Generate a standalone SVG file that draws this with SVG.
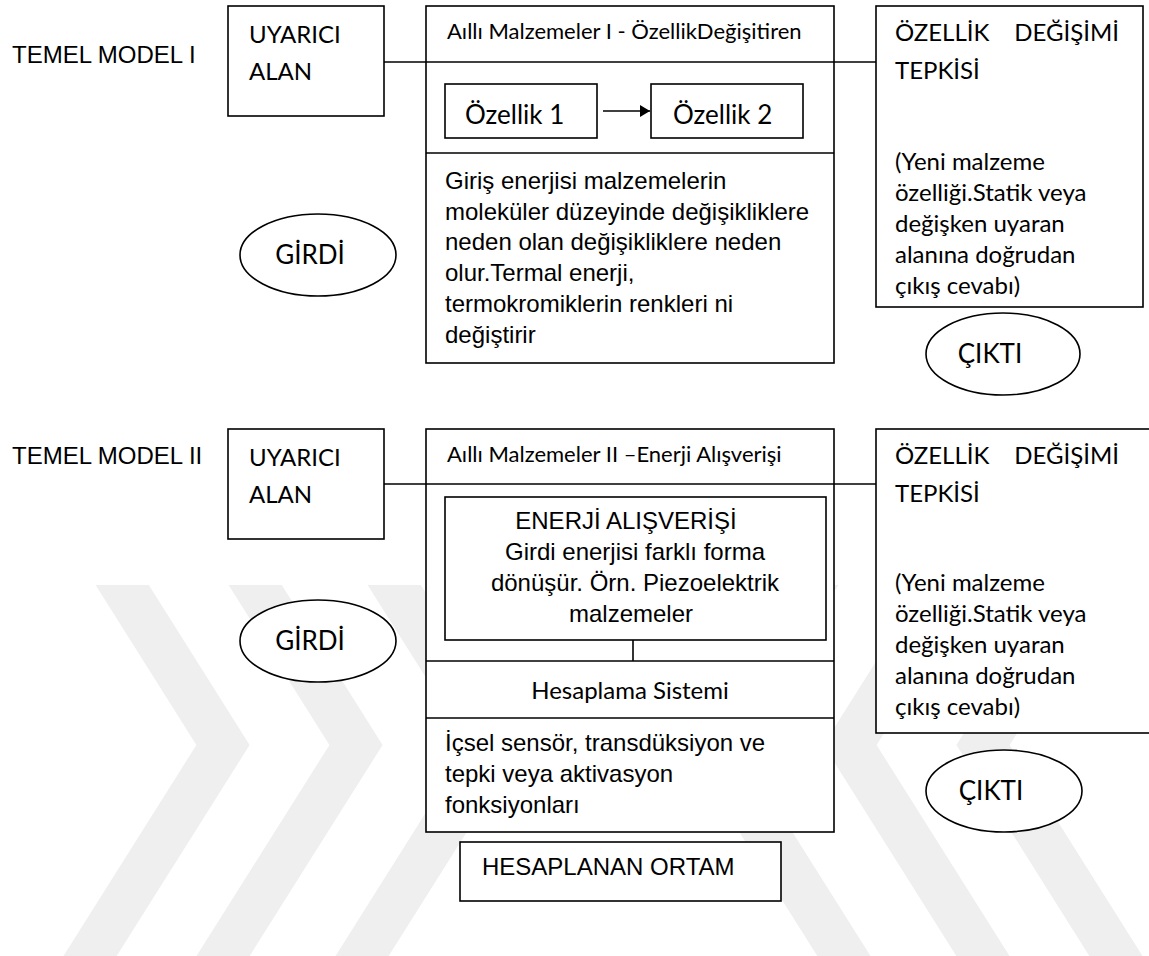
<svg xmlns="http://www.w3.org/2000/svg" width="1149" height="956" viewBox="0 0 1149 956">
<style>
.box{fill:#fff;stroke:#000;stroke-width:1.6}
.ln{fill:none;stroke:#000;stroke-width:1.6}
.ar{font-family:"Liberation Sans",Arial,sans-serif;font-size:24px;fill:#000}
.cb{font-family:Lato,"Open Sans",sans-serif;font-size:24px;fill:#000}
.tt{font-family:Lato,"Open Sans",sans-serif;font-size:22px;fill:#000}
.big{font-family:Lato,"Open Sans",sans-serif;font-size:26px;fill:#000}
.wm{fill:none;stroke:#efefef;stroke-width:45;stroke-linejoin:miter}
</style>
<defs>
<clipPath id="wmclip"><rect x="0" y="585" width="1149" height="371"/></clipPath>
<marker id="ah" markerWidth="10" markerHeight="12" refX="10" refY="6" orient="auto" markerUnits="userSpaceOnUse"><path d="M0,0 L10,6 L0,12 Z" fill="#000"/></marker>
</defs>
<rect width="1149" height="956" fill="#fff"/>
<g id="watermark" clip-path="url(#wmclip)">
<polyline class="wm" points="65.5,495 223,745 65.5,995"/>
<polyline class="wm" points="198.5,495 356,745 198.5,995"/>
<polyline class="wm" points="337.5,495 495,745 337.5,995"/>
<polyline class="wm" points="868.5,495 711,745 868.5,995"/>
<polyline class="wm" points="1007.5,495 850,745 1007.5,995"/>
<polyline class="wm" points="1140.5,495 983,745 1140.5,995"/>
</g>
<text class="ar" x="12" y="63">TEMEL MODEL I</text>
<text class="ar" x="12" y="464">TEMEL MODEL II</text>
<g id="uyarici1"><rect class="box" x="228" y="6" width="156" height="110"/><text class="cb" x="249" y="43">UYARICI</text><text class="cb" x="249" y="80">ALAN</text></g>
<g id="akilli1">
<rect class="box" x="426" y="6" width="408" height="357"/>
<line class="ln" x1="426" y1="153" x2="834" y2="153"/>
<text class="tt" x="447" y="39">Aıllı Malzemeler I - ÖzellikDeğişitiren</text>
<text class="ar" x="445" y="189">Giriş enerjisi malzemelerin</text>
<text class="ar" x="445" y="220">moleküler düzeyinde değişikliklere</text>
<text class="ar" x="445" y="250">neden olan değişikliklere neden</text>
<text class="ar" x="445" y="281">olur.Termal enerji,</text>
<text class="ar" x="445" y="312">termokromiklerin renkleri ni</text>
<text class="ar" x="445" y="343">değiştirir</text>
</g>
<g id="ozellik1"><rect class="box" x="445" y="84" width="152" height="54"/><text class="big" x="465" y="124">Özellik 1</text></g>
<g id="ozellik2"><rect class="box" x="651" y="84" width="152" height="54"/><text class="big" x="673" y="124">Özellik 2</text></g>
<g id="tepki1"><rect class="box" x="876" y="6" width="267" height="301"/>
<text class="cb" x="895" y="41">ÖZELLİK</text><text class="cb" x="1119" y="41" text-anchor="end">DEĞİŞİMİ</text>
<text class="cb" x="895" y="79">TEPKİSİ</text>
<text class="cb" x="895" y="170">(Yeni malzeme</text>
<text class="cb" x="895" y="201">özelliği.Statik veya</text>
<text class="cb" x="895" y="232">değişken uyaran</text>
<text class="cb" x="895" y="263">alanına doğrudan</text>
<text class="cb" x="895" y="294">çıkış cevabı)</text>
</g>
<g id="girdi1"><ellipse class="box" cx="318" cy="255" rx="78" ry="41"/><text class="big" x="310" y="264" text-anchor="middle">GİRDİ</text></g>
<g id="cikti1"><ellipse class="box" cx="1003" cy="354" rx="77" ry="41"/><text class="big" x="990" y="363" text-anchor="middle">ÇIKTI</text></g>

<g id="uyarici2"><rect class="box" x="228" y="429" width="156" height="110"/><text class="cb" x="249" y="466">UYARICI</text><text class="cb" x="249" y="503">ALAN</text></g>
<g id="akilli2">
<rect class="box" x="426" y="429" width="408" height="403"/>
<line class="ln" x1="426" y1="661" x2="834" y2="661"/>
<line class="ln" x1="426" y1="718" x2="834" y2="718"/>
<text class="tt" x="447" y="462">Aıllı Malzemeler II –Enerji Alışverişi</text>
<text class="cb" x="630" y="699" text-anchor="middle">Hesaplama Sistemi</text>
<text class="ar" x="445" y="751">İçsel sensör, transdüksiyon ve</text>
<text class="ar" x="445" y="782">tepki veya aktivasyon</text>
<text class="ar" x="445" y="813">fonksiyonları</text>
</g>
<g id="enerji"><rect class="box" x="445" y="497" width="381" height="143"/>
<text class="ar" x="626" y="529" text-anchor="middle">ENERJİ ALIŞVERİŞİ</text>
<text class="ar" x="635" y="560" text-anchor="middle">Girdi enerjisi farklı forma</text>
<text class="ar" x="635" y="591" text-anchor="middle">dönüşür. Örn. Piezoelektrik</text>
<text class="ar" x="631" y="622" text-anchor="middle">malzemeler</text>
</g>
<g id="tepki2"><rect class="box" x="876" y="429" width="290" height="304"/>
<text class="cb" x="895" y="464">ÖZELLİK</text><text class="cb" x="1119" y="464" text-anchor="end">DEĞİŞİMİ</text>
<text class="cb" x="895" y="502">TEPKİSİ</text>
<text class="cb" x="895" y="591">(Yeni malzeme</text>
<text class="cb" x="895" y="622">özelliği.Statik veya</text>
<text class="cb" x="895" y="653">değişken uyaran</text>
<text class="cb" x="895" y="684">alanına doğrudan</text>
<text class="cb" x="895" y="715">çıkış cevabı)</text>
</g>
<g id="girdi2"><ellipse class="box" cx="318" cy="641" rx="78" ry="41"/><text class="big" x="310" y="650" text-anchor="middle">GİRDİ</text></g>
<g id="cikti2"><ellipse class="box" cx="1004" cy="791" rx="78" ry="41"/><text class="big" x="991" y="800" text-anchor="middle">ÇIKTI</text></g>
<g id="hesaplanan"><rect class="box" x="460" y="842" width="321" height="59"/><text class="ar" x="482" y="875" font-size="23.5">HESAPLANAN ORTAM</text></g>

<g id="connectors">
<line class="ln" x1="384" y1="62" x2="876" y2="62"/>
<line class="ln" x1="603" y1="111" x2="650" y2="111" marker-end="url(#ah)"/>
<line class="ln" x1="384" y1="484" x2="876" y2="484"/>
<line class="ln" x1="633" y1="640" x2="633" y2="661"/>
</g>
</svg>
